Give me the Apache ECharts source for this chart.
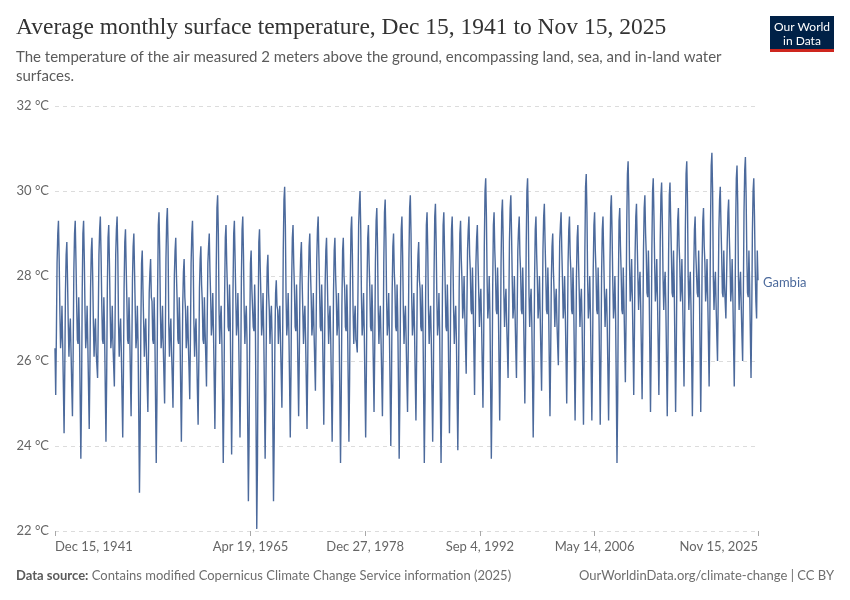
<!DOCTYPE html>
<html><head><meta charset="utf-8">
<script src="https://cdn.jsdelivr.net/npm/echarts@6/dist/echarts.min.js"></script>
<style>html,body{margin:0;padding:0;background:#fff}#c{width:850px;height:600px}</style>
</head><body><div id="c"></div><script>
const seriesName = 'Gambia';
const firstMonth = { year: 1941, month: 12, day: 15 };
// Monthly average surface temperature (°C)
const temps1941 = [26.3];
const temps1940s = [
 25.2,26.7,28.3,29.0,29.3,28.4,27.2,26.3,26.6,27.3,26.4,25.4,
 24.3,25.8,27.6,28.5,28.8,27.9,26.9,26.1,26.7,27.0,26.2,25.4,
 24.7,26.2,28.1,29.0,29.3,28.4,27.4,26.5,26.4,27.5,26.7,25.2,
 23.7,25.2,27.6,29.0,29.3,28.4,27.2,26.3,26.6,27.3,26.4,25.4,
 24.4,25.9,27.7,28.6,28.9,28.0,26.9,26.1,26.7,27.0,26.2,25.9,
 25.6,27.1,28.5,29.1,29.4,28.5,27.4,26.5,26.4,27.5,26.7,25.4,
 24.1,25.6,27.7,28.9,29.2,28.3,27.2,26.3,26.6,27.3,26.4,25.9,
 25.4,26.9,28.5,29.1,29.4,28.5,26.9,26.1,26.7,27.0,26.2,25.2
];
const temps1950s = [
 24.2,25.7,27.7,28.8,29.1,28.2,27.4,26.5,26.4,27.5,26.7,25.7,
 24.7,26.2,27.9,28.7,29.0,28.1,27.2,26.3,26.6,27.3,26.4,24.7,
 22.9,24.4,26.8,28.3,28.6,27.7,26.9,26.1,26.7,27.0,26.2,25.5,
 24.8,26.3,27.6,28.1,28.4,27.5,27.4,26.5,26.4,27.5,26.7,25.1,
 23.6,25.1,27.6,29.2,29.5,28.6,27.2,26.3,26.6,27.3,26.4,25.7,
 25.0,26.5,28.4,29.3,29.6,28.7,26.9,26.1,26.7,27.0,26.2,25.6,
 24.9,26.4,28.0,28.6,28.9,28.0,27.4,26.5,26.4,27.5,26.7,25.4,
 24.1,25.6,27.3,28.1,28.4,27.5,27.2,26.3,26.6,27.3,26.4,25.8,
 25.1,26.6,28.3,29.0,29.3,28.4,26.9,26.1,26.7,27.0,26.2,25.3,
 24.5,26.0,27.7,28.4,28.7,27.8,27.4,26.5,26.4,27.5,26.7,26.1
];
const temps1960s = [
 25.4,26.9,28.3,28.7,29.0,28.1,27.5,26.6,26.9,27.6,26.7,25.6,
 24.4,25.9,28.2,29.6,29.9,29.0,27.2,26.4,27.0,27.3,26.5,25.1,
 23.6,25.1,27.5,28.9,29.2,28.3,27.7,26.8,26.7,27.8,27.0,25.4,
 23.8,25.3,27.6,29.0,29.3,28.4,27.5,26.6,26.9,27.6,26.7,25.5,
 24.2,25.7,27.9,29.1,29.4,28.5,27.2,26.4,27.0,27.3,26.5,24.6,
 22.7,24.2,26.7,28.3,28.6,27.7,27.7,26.8,26.7,27.8,27.0,24.5,
 22.05,23.6,26.7,28.8,29.1,28.2,27.5,26.6,26.9,27.6,26.7,25.2,
 23.7,25.2,27.2,28.2,28.5,27.6,27.2,26.4,27.0,27.3,26.5,24.6,
 22.7,24.2,26.4,27.6,27.9,27.3,27.2,26.4,27.0,27.3,26.5,25.7,
 24.9,26.4,28.6,29.8,30.1,29.2,27.5,26.6,26.9,27.6,26.7,25.5
];
const temps1970s = [
 24.2,25.7,27.8,28.9,29.2,28.3,27.7,26.8,26.7,27.8,27.0,25.8,
 24.7,26.2,27.8,28.5,28.8,27.9,27.2,26.4,27.0,27.3,26.5,25.5,
 24.4,25.9,27.8,28.7,29.0,28.1,27.5,26.6,26.9,27.6,26.7,26.0,
 25.3,26.8,28.4,29.1,29.4,28.5,27.7,26.8,26.7,27.8,27.0,25.8,
 24.5,26.0,27.8,28.6,28.9,28.0,27.2,26.4,27.0,27.3,26.5,25.3,
 24.1,25.6,27.6,28.6,28.9,28.0,27.5,26.6,26.9,27.6,26.7,25.2,
 23.6,25.1,27.3,28.6,28.9,28.0,27.7,26.8,26.7,27.8,27.0,25.5,
 24.1,25.6,27.8,29.1,29.4,28.5,27.2,26.4,27.0,27.3,26.5,26.4,
 26.2,27.7,29.2,29.7,30.0,29.1,27.5,26.6,26.9,27.6,26.7,25.4,
 24.2,25.7,27.8,28.9,29.2,28.3,27.7,26.8,26.7,27.8,27.0,25.9
];
const temps1980s = [
 24.8,26.3,28.3,29.3,29.6,28.7,27.2,26.4,27.0,27.3,26.5,25.6,
 24.7,26.2,28.3,29.5,29.8,28.9,27.5,26.6,26.9,27.6,26.7,25.4,
 24.0,25.5,27.6,28.7,29.0,28.1,27.7,26.8,26.7,27.8,27.0,25.4,
 23.7,25.2,27.6,29.1,29.4,28.5,27.2,26.4,27.0,27.3,26.5,25.6,
 24.8,26.3,28.4,29.6,29.9,29.0,27.5,26.6,26.9,27.6,26.7,25.6,
 24.6,26.1,27.8,28.5,28.8,27.9,27.7,26.8,26.7,27.8,27.0,25.3,
 23.6,25.1,27.6,29.2,29.5,28.6,27.2,26.4,27.0,27.3,26.5,25.3,
 24.1,25.6,28.0,29.4,29.7,28.8,27.5,26.6,26.9,27.6,26.7,25.1,
 23.6,25.1,27.6,29.2,29.5,28.6,27.7,26.8,26.7,27.8,27.0,25.7,
 24.3,25.8,27.9,29.1,29.4,28.5,27.2,26.4,27.0,27.3,26.5,25.2
];
const temps1990s = [
 23.9,25.4,27.7,29.0,29.3,28.4,27.9,27.0,27.3,28.0,27.1,26.4,
 25.7,27.2,28.6,29.1,29.4,28.5,28.1,27.2,27.1,28.2,27.4,26.3,
 25.2,26.7,28.3,28.9,29.2,28.3,27.6,26.8,27.4,27.7,26.9,25.9,
 24.9,26.4,28.7,30.0,30.3,29.4,27.9,27.0,27.3,28.0,27.1,25.4,
 23.7,25.2,27.7,29.2,29.5,28.6,28.1,27.2,27.1,28.2,27.4,26.0,
 24.6,26.1,28.3,29.5,29.8,28.9,27.6,26.8,27.4,27.7,26.9,26.3,
 25.6,27.1,28.8,29.6,29.9,29.0,27.9,27.0,27.3,28.0,27.1,26.3,
 25.6,27.1,28.6,29.1,29.4,28.5,28.1,27.2,27.1,28.2,27.4,26.2,
 25.0,26.5,28.7,30.0,30.3,29.4,27.6,26.8,27.4,27.7,26.9,25.6,
 24.2,25.7,27.9,29.1,29.4,28.5,27.9,27.0,27.3,28.0,27.1,26.2
];
const temps2000s = [
 25.3,26.8,28.6,29.4,29.7,28.8,28.1,27.2,27.1,28.2,27.4,26.0,
 24.7,26.2,27.9,28.7,29.0,28.1,27.6,26.8,27.4,27.7,26.9,26.4,
 25.9,27.4,28.8,29.2,29.5,28.6,27.9,27.0,27.3,28.0,27.1,26.1,
 25.0,26.5,28.3,29.1,29.4,28.5,28.1,27.2,27.1,28.2,27.4,26.0,
 24.6,26.1,28.0,28.9,29.2,28.3,27.6,26.8,27.4,27.7,26.9,25.7,
 24.5,26.0,28.5,30.1,30.4,29.5,27.9,27.0,27.3,28.0,27.1,25.8,
 24.6,26.1,28.1,29.2,29.5,28.6,28.1,27.2,27.1,28.2,27.4,26.0,
 24.5,26.0,28.0,29.1,29.4,28.5,27.6,26.8,27.4,27.7,26.9,25.8,
 24.6,26.1,28.3,29.6,29.9,29.0,27.9,27.0,27.3,28.0,27.1,25.4,
 23.6,25.1,27.7,29.3,29.6,28.7,28.1,27.2,27.1,28.2,27.4,26.4
];
const temps2010s = [
 25.5,27.0,29.2,30.4,30.7,29.8,28.3,27.4,27.7,28.4,27.5,26.4,
 25.2,26.7,28.5,29.4,29.7,28.8,28.0,27.2,27.8,28.1,27.3,26.2,
 25.1,26.6,28.6,29.6,29.9,29.0,28.5,27.6,27.5,28.6,27.8,26.3,
 24.8,26.3,28.6,30.0,30.3,29.4,28.3,27.4,27.7,28.4,27.5,26.4,
 25.2,26.7,28.8,29.9,30.2,29.3,28.0,27.2,27.8,28.1,27.3,26.0,
 24.7,26.2,28.5,29.9,30.2,29.3,28.5,27.6,27.5,28.6,27.8,26.3,
 24.8,26.3,28.3,29.3,29.6,28.7,28.3,27.4,27.7,28.4,27.5,26.5,
 25.4,26.9,29.1,30.4,30.7,29.8,28.0,27.2,27.8,28.1,27.3,26.0,
 24.7,26.2,28.1,29.1,29.4,28.5,28.5,27.6,27.5,28.6,27.8,26.3,
 24.8,26.3,28.3,29.3,29.6,28.7,28.3,27.4,27.7,28.4,27.5,26.5
];
const temps2020s = [
 25.4,26.9,29.2,30.6,30.9,30.0,28.0,27.2,27.8,28.1,27.3,26.6,
 26.0,27.5,29.1,29.8,30.1,29.2,28.5,27.6,27.5,28.6,27.8,27.4,
 27.0,28.0,28.8,29.5,29.8,28.9,28.3,27.4,27.7,28.4,27.5,26.4,
 25.4,26.9,29.1,30.3,30.6,29.7,28.0,27.2,27.8,28.1,27.3,26.6,
 26.0,27.5,29.5,30.5,30.8,29.9,28.5,27.6,27.5,28.6,27.8,26.7,
 25.6,27.1,29.0,30.0,30.3,29.4,28.2,27.4,27.0,28.6,27.9
];
const tickDates = ['1941-12-15','1965-04-19','1978-12-27','1992-09-04','2006-05-14','2025-11-15'];
const tickLabels = ['Dec 15, 1941','Apr 19, 1965','Dec 27, 1978','Sep 4, 1992','May 14, 2006','Nov 15, 2025'];
const yTicks = [22, 24, 26, 28, 30, 32];

const temps = [].concat(temps1941, temps1940s, temps1950s, temps1960s, temps1970s,
  temps1980s, temps1990s, temps2000s, temps2010s, temps2020s);
const data = temps.map((v, i) => [Date.UTC(firstMonth.year, firstMonth.month - 1 + i, firstMonth.day), v]);
const tickTimes = tickDates.map(s => { const p = s.split('-').map(Number); return Date.UTC(p[0], p[1] - 1, p[2]); });

const chart = echarts.init(document.getElementById('c'), null, { renderer: 'canvas' });
const FONT = 'Lato, "Noto Sans", sans-serif';
chart.setOption({
  animation: false,
  backgroundColor: '#fff',
  grid: { left: 55, right: 92, top: 106, bottom: 69, containLabel: false },
  xAxis: {
    type: 'value',
    min: tickTimes[0],
    max: tickTimes[tickTimes.length - 1],
    axisLine: { show: false },
    splitLine: { show: false },
    axisTick: { show: true, customValues: tickTimes, length: 5, lineStyle: { color: '#a8a8a8' } },
    axisLabel: {
      customValues: tickTimes,
      alignMinLabel: 'left',
      alignMaxLabel: 'right',
      color: '#666', fontSize: 13, fontFamily: FONT, margin: 9,
      formatter: (val) => {
        let best = 0;
        tickTimes.forEach((t, i) => { if (Math.abs(t - val) < Math.abs(tickTimes[best] - val)) best = i; });
        return tickLabels[best];
      }
    }
  },
  yAxis: {
    type: 'value',
    min: yTicks[0], max: yTicks[yTicks.length - 1], interval: 2,
    axisLine: { show: false }, axisTick: { show: false },
    axisLabel: { formatter: '{value} °C', color: '#666', fontSize: 13, fontFamily: FONT, margin: 6 },
    splitLine: { lineStyle: { color: '#dcdcdc', type: [4, 4], width: 1 } }
  },
  series: [{
    name: seriesName,
    type: 'line',
    data: data,
    showSymbol: false,
    symbol: 'none',
    lineStyle: { color: '#4c6a9c', width: 1.4 },
    itemStyle: { color: '#4c6a9c' },
    endLabel: { show: true, formatter: seriesName, color: '#4c6a9c', fontSize: 13, fontFamily: FONT, distance: 5, offset: [0, 3] },
    emphasis: { disabled: true }
  }],
  graphic: [
    { type: 'text', left: 16, top: 16, style: { text: 'Average monthly surface temperature, Dec 15, 1941 to Nov 15, 2025', fill: '#333', font: '23.5px "Liberation Serif", "DejaVu Serif", serif' } },
    { type: 'text', left: 16, top: 48, style: { text: 'The temperature of the air measured 2 meters above the ground, encompassing land, sea, and in-land water\nsurfaces.', fill: '#5b5b5b', font: '15px ' + FONT, lineHeight: 19 } },
    { type: 'rect', left: 770, top: 16, shape: { width: 64, height: 36 }, style: { fill: '#002147' } },
    { type: 'rect', left: 770, top: 49, shape: { width: 64, height: 3 }, style: { fill: '#ce261e' } },
    { type: 'text', x: 802, y: 20, style: { text: 'Our World\nin Data', fill: '#fff', font: '12px ' + FONT, align: 'center', lineHeight: 14 } },
    { type: 'text', left: 16, top: 569, style: { rich: { b: { font: 'bold 13px ' + FONT, fill: '#5b5b5b' }, n: { font: '13px ' + FONT, fill: '#6e6e6e' } }, text: '{b|Data source:} {n|Contains modified Copernicus Climate Change Service information (2025)}' } },
    { type: 'text', right: 16, top: 569, style: { text: 'OurWorldinData.org/climate-change | CC BY', fill: '#6e6e6e', font: '13px ' + FONT } }
  ]
});
</script></body></html>
